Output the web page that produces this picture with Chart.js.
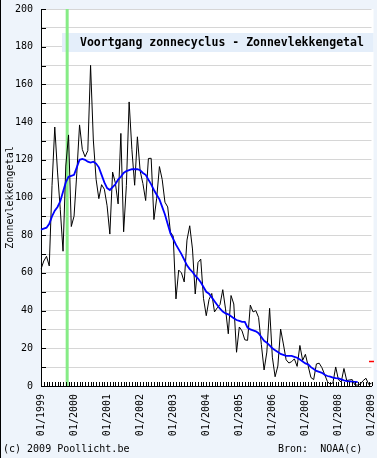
<!DOCTYPE html>
<html><head><meta charset="utf-8">
<script src="https://cdn.jsdelivr.net/npm/chart.js@4"></script>
<style>
html,body{margin:0;padding:0;background:#eef4fb;}
#wrap{position:relative;width:377px;height:458px;overflow:hidden;background:#eef4fb;}
#c{position:absolute;left:0;top:0;}
.foot{position:absolute;top:443px;font:10px "DejaVu Sans Mono",monospace;color:#000;white-space:pre;line-height:12px;}
#lb{position:absolute;left:0;top:0;width:1px;height:458px;background:#000;}
</style></head><body>
<div id="wrap"><canvas id="c" width="377" height="458"></canvas>
<div class="foot" style="left:3px">(c) 2009 Poollicht.be</div>
<div class="foot" style="left:278px">Bron:  NOAA(c)</div>
<div id="lb"></div></div>
<script>
const years = [1999,2000,2001,2002,2003,2004,2005,2006,2007,2008];
const lastLabel = '01/2009';
const monthly = [
 62.0, 66.3, 68.8, 63.7,106.4,137.4,113.5, 93.7, 71.5,116.7,133.2, 84.6,
 90.1,112.9,138.5,125.5,121.6,124.9,170.1,130.5,109.7, 99.4,106.8,104.4,
 95.6, 80.6,113.5,107.7, 96.6,134.0, 81.8,106.4,150.7,125.5,106.5,132.2,
114.1,107.4, 98.4,120.7,120.8, 88.3, 99.6,116.4,109.6, 97.5, 95.0, 81.6,
 79.5, 46.2, 61.5, 60.0, 55.2, 77.4, 85.0, 72.7, 48.8, 65.5, 67.3, 46.5,
 37.3, 45.8, 49.1, 39.3, 41.5, 43.2, 51.1, 40.9, 27.7, 48.0, 43.5, 17.9,
 31.3, 29.2, 24.5, 24.2, 42.9, 39.3, 40.0, 36.4, 22.1,  8.5, 18.0, 41.2,
 15.3,  4.9, 10.6, 30.2, 22.3, 13.9, 12.2, 12.9, 14.4, 10.4, 21.5, 13.6,
 16.8, 10.7,  4.5,  3.4, 11.7, 12.1,  9.7,  6.0,  2.4,  0.9,  1.7, 10.1,
  3.3,  2.1,  9.3,  2.9,  3.2,  3.4,  0.5,  0.5,  1.1,  2.9,  4.1,  0.8,
  1.5];
const smoothed = [
 83, 83.5, 84, 86, 90, 93, 95, 98,103,108,111,111.5,
112,116,120,120.5,120,119,118.5,119,118,116,112,108,
105,104,105.5,107,109.5,111,113,114,114.5,115,115,115,
114.5,113,112,109.5,107,104,101.5, 99, 95, 91, 86, 81,
 78, 75, 72.5, 70, 67, 64, 62, 60.5, 58.5, 57, 55, 52.5,
 50, 49, 47, 45, 43, 41, 39.5, 38.5, 38, 37, 36, 35,
 34.5, 34, 34, 31, 30, 29.5, 29, 28, 26, 24, 23, 21.5,
 20, 19, 18, 17, 16.5, 16, 16, 16, 15.5, 15, 14, 13,
 12, 11.5, 10, 9, 8, 7.5, 7, 6, 5.3, 5, 4.5, 4.2,
  4, 3.5, 3, 2.6, 2.5, 2.3, 2.2, 2];
const predictionLabel = '01/2009';
const predictionValue = 13;
const markerLabel = '10/1999';
const titleText = 'Voortgang zonnecyclus - Zonnevlekkengetal';
const yTitle = 'Zonnevlekkengetal';

const labels = [];
years.forEach(y => { for (let m = 1; m <= 12; m++) labels.push((m < 10 ? '0' : '') + m + '/' + y); });
labels.push(lastLabel);
const prediction = labels.map(l => l === predictionLabel ? predictionValue : null);

const mono = '"DejaVu Sans Mono", monospace';

const decor = {
  id: 'decor',
  beforeDraw(chart) {
    const ctx = chart.ctx, a = chart.chartArea;
    ctx.save();
    ctx.fillStyle = '#ffffff';
    ctx.fillRect(a.left, a.top, a.right - a.left + 2, a.bottom - a.top);
    ctx.restore();
  },
  beforeDatasetsDraw(chart) {
    const ctx = chart.ctx, a = chart.chartArea, xs = chart.scales.x;
    ctx.save();
    ctx.fillStyle = '#e4eefa';
    ctx.fillRect(a.left + 21, a.top + 24, a.right - a.left - 19, 19);
    ctx.fillStyle = '#000';
    ctx.font = 'bold 11.5px ' + mono;
    ctx.textBaseline = 'middle';
    ctx.fillText(titleText, a.left + 39, a.top + 34);
    const gx = xs.getPixelForValue(labels.indexOf(markerLabel) + 0.5);
    ctx.strokeStyle = '#86ec86';
    ctx.lineWidth = 3;
    ctx.beginPath(); ctx.moveTo(gx, a.top); ctx.lineTo(gx, a.bottom); ctx.stroke();
    ctx.restore();
  },
  afterDatasetsDraw(chart) {
    const ctx = chart.ctx, a = chart.chartArea, xs = chart.scales.x, ys = chart.scales.y;
    ctx.save();
    ctx.strokeStyle = '#000';
    ctx.lineWidth = 1;
    ctx.beginPath();
    labels.forEach((l, i) => {
      const px = Math.round(xs.getPixelForValue(i)) + 0.5;
      ctx.moveTo(px, a.bottom); ctx.lineTo(px, a.bottom - 4);
    });
    for (let v = 0; v <= 200; v += 10) {
      const py = Math.round(ys.getPixelForValue(v)) + 0.5;
      ctx.moveTo(a.left, py); ctx.lineTo(a.left + 5, py);
    }
    ctx.stroke();
    ctx.restore();
  }
};

new Chart(document.getElementById('c'), {
  type: 'line',
  data: {
    labels: labels,
    datasets: [
      { label: 'Afgevlakt', data: smoothed, borderColor: '#0000ff', borderWidth: 1.8, pointRadius: 0, tension: 0, order: 0 },
      { label: 'Maandelijks', data: monthly, borderColor: '#000000', borderWidth: 1, pointRadius: 0, tension: 0, order: 1 },
      { label: 'Voorspelling', data: prediction, borderColor: '#ff0000', backgroundColor: '#ff0000', showLine: false, pointStyle: 'line', pointRadius: 2.5, borderWidth: 1.5, order: 0 }
    ]
  },
  options: {
    responsive: false,
    animation: false,
    devicePixelRatio: 1,
    layout: { padding: { top: 9, right: 1, left: 1, bottom: 0 } },
    plugins: { legend: { display: false }, tooltip: { enabled: false } },
    scales: {
      x: {
        type: 'category',
        offset: false,
        grid: { drawOnChartArea: false, drawTicks: false },
        border: { color: '#000' },
        ticks: {
          autoSkip: false, maxRotation: 90, minRotation: 90, padding: 8, color: '#000',
          font: { family: mono, size: 10 },
          callback: (v, i) => labels[i].startsWith('01/') ? labels[i] : ''
        },
        afterFit: s => { s.height = 72; s.paddingLeft = 0; s.paddingRight = 0; }
      },
      y: {
        min: 0, max: 200,
        grid: { color: '#d6d6d6', drawTicks: false },
        border: { color: '#000' },
        ticks: {
          stepSize: 10, padding: 8, color: '#000',
          font: { family: mono, size: 10 },
          callback: v => v % 20 === 0 ? v : ''
        },
        title: { display: true, text: yTitle, color: '#000', font: { family: mono, size: 10 }, padding: { top: 3, bottom: 0 } },
        afterFit: s => { s.width = 40; s.paddingTop = 0; s.paddingBottom = 0; }
      }
    }
  },
  plugins: [decor]
});
</script>
</body></html>
